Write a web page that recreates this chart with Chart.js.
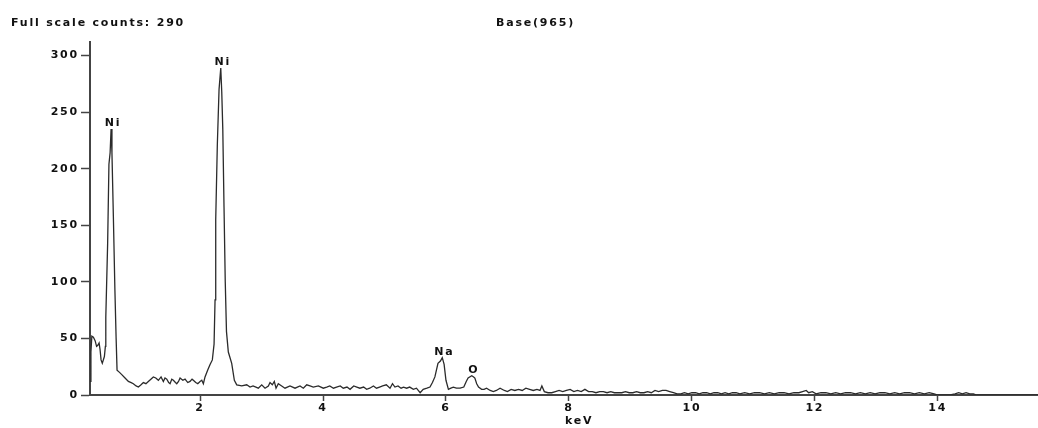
<!DOCTYPE html>
<html>
<head>
<meta charset="utf-8">
<script src="https://cdn.jsdelivr.net/npm/chart.js@4.4.1/dist/chart.umd.min.js"></script>
<style>
    html, body { margin: 0; padding: 0; background: #fff; }
    #wrap { width: 1038px; height: 428px; }
</style>
</head>
<body>
<div id="wrap"><canvas id="spectrum" width="1038" height="428"></canvas></div>
<script>
// EDS spectrum (keV vs counts)
const energyKeV = [
    0.21, 0.225, 0.24, 0.265, 0.293, 0.317, 0.337, 0.358, 0.374, 0.39, 0.41, 0.444, 0.46,
    0.467, 0.497, 0.518, 0.537, 0.553, 0.567, 0.59, 0.615, 0.635, 0.65,
    0.69, 0.727, 0.78, 0.834, 0.88, 0.915, 0.96, 0.997, 1.04, 1.078, 1.12, 1.159, 1.2, 1.24, 1.28,
    1.322, 1.366, 1.403, 1.43, 1.459, 1.49, 1.512, 1.54, 1.566, 1.6, 1.621, 1.65, 1.675, 1.72, 1.756,
    1.8, 1.837, 1.87, 1.891, 1.93, 1.963, 2.0, 2.028, 2.054, 2.081, 2.125, 2.163, 2.2,
    2.228, 2.244, 2.255, 2.281, 2.309, 2.337, 2.353, 2.37, 2.39, 2.41, 2.43, 2.46, 2.515, 2.558, 2.597,
    2.678, 2.759, 2.813, 2.862, 2.948, 3.003, 3.057, 3.111, 3.138, 3.176, 3.208, 3.236, 3.273,
    3.328, 3.382, 3.463, 3.545, 3.626, 3.68, 3.735, 3.789, 3.842, 3.924, 4.005,
    4.06, 4.11, 4.17, 4.22, 4.28, 4.33, 4.39, 4.44, 4.5, 4.55, 4.6, 4.66, 4.71, 4.76, 4.82, 4.87,
    4.92, 4.97, 5.03, 5.09, 5.13, 5.17, 5.22, 5.27, 5.31, 5.36, 5.41, 5.47, 5.52, 5.58, 5.63, 5.69,
    5.74, 5.78, 5.82, 5.87, 5.91, 5.94, 5.97, 6.0, 6.04, 6.08, 6.12, 6.17, 6.23, 6.29, 6.33, 6.36,
    6.42, 6.45, 6.47, 6.5, 6.53, 6.58, 6.62, 6.66, 6.72, 6.77, 6.82, 6.88,
    6.95, 7.0, 7.06, 7.12, 7.18, 7.24, 7.3, 7.36, 7.42, 7.48, 7.53, 7.56, 7.6, 7.66, 7.72, 7.78,
    7.84, 7.9, 7.96, 8.02, 8.08, 8.14, 8.2, 8.26, 8.32, 8.38, 8.44, 8.5, 8.56, 8.62, 8.68, 8.74,
    8.8, 8.86, 8.92, 8.98, 9.04, 9.1, 9.16, 9.22, 9.28, 9.34, 9.4, 9.46, 9.52, 9.58, 9.64, 9.7,
    9.76, 9.82, 9.88, 9.94, 10.0, 10.06, 10.12, 10.18, 10.24, 10.3, 10.36, 10.42, 10.48, 10.54,
    10.6, 10.66, 10.72, 10.78,
    10.86, 10.94, 11.02, 11.1, 11.18, 11.26, 11.34, 11.42, 11.5, 11.58, 11.66, 11.74, 11.8, 11.86,
    11.9, 11.96, 12.02, 12.1, 12.18, 12.26, 12.34, 12.42, 12.5, 12.58, 12.66, 12.74, 12.82, 12.9,
    12.98, 13.06, 13.14, 13.22, 13.3, 13.38, 13.46, 13.54, 13.62, 13.7, 13.78, 13.86, 13.94,
    14.0, 14.1, 14.2, 14.28, 14.34, 14.4, 14.46, 14.52, 14.58, 14.63, 15.63,
];
const counts = [
    12, 38, 52, 51, 48, 43, 44, 46, 40, 31, 28, 34, 43,
    69, 134, 204, 214, 235, 214, 158, 93, 50, 22,
    20, 18, 15, 12, 11, 10, 8, 7, 9, 11, 10, 12, 14, 16, 15,
    13, 16, 12, 15, 14, 11, 10, 14, 13, 11, 10, 12, 15, 13, 14,
    11, 12, 14, 13, 11, 10, 12, 13, 10, 16, 22, 27, 31,
    45, 84, 155, 221, 270, 289, 268, 235, 166, 100, 56, 38, 28, 13, 9,
    8, 9, 7, 8, 6, 9, 6, 8, 11, 9, 12, 6, 10,
    8, 6, 8, 6, 8, 6, 9, 8, 7, 8, 6,
    7, 8, 6, 7, 8, 6, 7, 5, 8, 7, 6, 7, 5, 6, 8, 6,
    7, 8, 9, 6, 10, 7, 8, 6, 7, 6, 7, 5, 6, 2, 5, 6,
    7, 11, 16, 28, 30, 33, 27, 13, 5, 6, 7, 6, 6, 7, 12, 15,
    17, 16, 15, 10, 7, 5, 5, 6, 4, 3, 4, 6,
    4, 3, 5, 4, 5, 4, 6, 5, 4, 5, 4, 8, 3, 2, 2, 3,
    4, 3, 4, 5, 3, 4, 3, 5, 3, 3, 2, 3, 3, 2, 3, 2,
    2, 2, 3, 2, 2, 3, 2, 2, 3, 2, 4, 3, 4, 4, 3, 2,
    1, 1, 2, 1, 2, 2, 1, 2, 2, 1, 2, 2, 1, 2,
    1, 2, 2, 1,
    2, 1, 2, 2, 1, 2, 1, 2, 2, 1, 2, 2, 3, 4,
    2, 3, 1, 2, 2, 1, 2, 1, 2, 2, 1, 2, 1, 2,
    1, 2, 2, 1, 2, 1, 2, 2, 1, 2, 1, 2, 1,
    0, 0, 0, 1, 2, 1, 2, 1, 1, 0, 0,
];

const xTicks = [2, 4, 6, 8, 10, 12, 14];
const yTicks = [0, 50, 100, 150, 200, 250, 300];

const peakNames = ['Ni', 'Ni', 'Na', 'O'];
const peakKeV = [0.553, 2.337, 5.94, 6.42];
const peakCounts = [235, 289, 33, 17];

const headerLeft = 'Full scale counts: 290';
const headerMid = 'Base(965)';
const xTitle = 'keV';

const FONT = "'DejaVu Sans', Verdana, sans-serif";
const SPACING = '1.8px';

// text in the original is bold and widely spaced
const spacedText = {
    id: 'spacedText',
    beforeDraw(chart) {
        chart.ctx.letterSpacing = SPACING;
    },
    afterDraw(chart) {
        const { ctx, scales } = chart;
        ctx.save();
        ctx.letterSpacing = SPACING;
        ctx.fillStyle = '#111';
        ctx.font = 'bold 11px ' + FONT;
        ctx.textBaseline = 'alphabetic';

        ctx.textAlign = 'left';
        ctx.fillText(headerLeft, 11, 26);
        ctx.fillText(headerMid, 496, 26);
        ctx.fillText(xTitle, 565, 424);

        ctx.textAlign = 'center';
        peakNames.forEach((name, i) => {
            const x = scales.x.getPixelForValue(peakKeV[i]) + 2;
            const y = scales.y.getPixelForValue(peakCounts[i]) - 3;
            ctx.fillText(name, x, y);
        });
        ctx.restore();
        ctx.letterSpacing = '0px';
    },
};

const tickFont = { family: FONT, weight: 'bold', size: 11 };

new Chart(document.getElementById('spectrum'), {
    type: 'line',
    data: {
        datasets: [{
            data: energyKeV.map((e, i) => ({ x: e, y: counts[i] })),
            borderColor: '#2b2b2b',
            borderWidth: 1.3,
            pointRadius: 0,
            tension: 0,
            fill: false,
        }],
    },
    options: {
        responsive: false,
        animation: false,
        devicePixelRatio: 1,
        layout: { padding: { top: 42, left: 0, right: 0, bottom: 0 } },
        plugins: {
            legend: { display: false },
            tooltip: { enabled: false },
        },
        scales: {
            x: {
                type: 'linear',
                min: 0.21,
                max: 15.63,
                afterBuildTicks: s => { s.ticks = xTicks.map(v => ({ value: v })); },
                afterFit: s => { s.height = 33; },
                grid: { drawOnChartArea: false, tickLength: 6, tickColor: '#444', tickWidth: 1.5 },
                border: { display: true, color: '#444', width: 2 },
                ticks: { color: '#111', font: tickFont, padding: 1, maxRotation: 0, autoSkip: false },
            },
            y: {
                min: 0,
                max: 312,
                afterBuildTicks: s => { s.ticks = yTicks.map(v => ({ value: v })); },
                afterFit: s => { s.width = 90; },
                grid: { drawOnChartArea: false, tickLength: 9, tickColor: '#444', tickWidth: 1.5 },
                border: { display: true, color: '#444', width: 2 },
                ticks: { color: '#111', font: tickFont, padding: 2 },
            },
        },
    },
    plugins: [spacedText],
});
</script>
</body>
</html>
